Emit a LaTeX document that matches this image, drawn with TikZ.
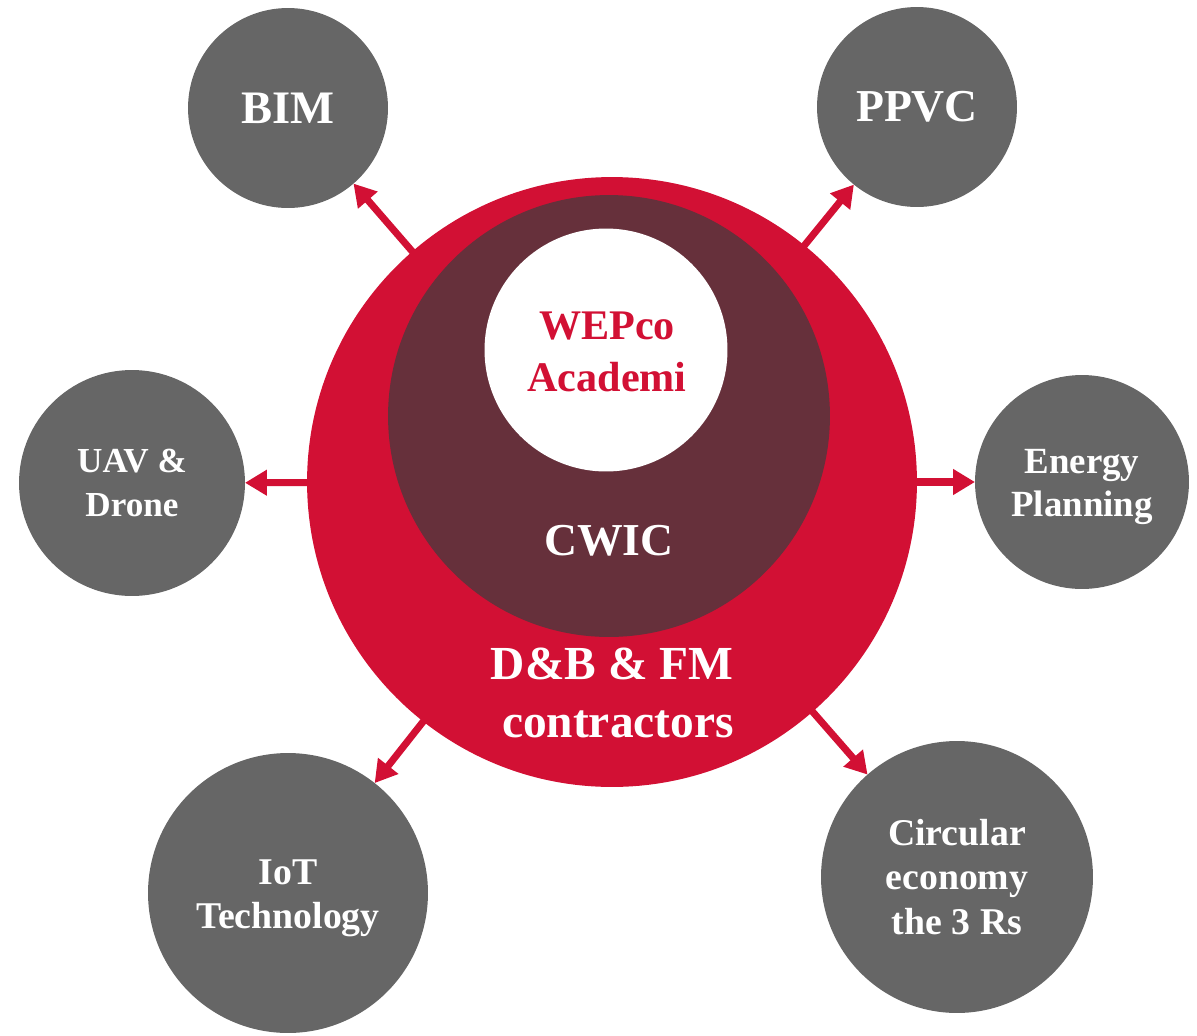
\documentclass[tikz,border=0pt]{standalone}
\usepackage{fontspec}
\setmainfont{Liberation Serif}
\usepackage{xcolor}
\usetikzlibrary{arrows.meta}
\definecolor{hubred}{HTML}{D21034}
\definecolor{hubmaroon}{HTML}{66303B}
\definecolor{satgrey}{HTML}{666666}
\tikzset{
    ring/.style={circle, inner sep=0pt, outer sep=0pt},
    sat/.style={circle, fill=satgrey, inner sep=0pt, outer sep=0pt, text=white, align=center, font=\bfseries},
    txt/.style={align=center, inner sep=0pt, font=\bfseries},
    arrow/.style={-{Triangle[length=12.5pt, width=14pt]}, line width=4pt, hubred, shorten <=-1pt}
}
\newcommand{\fsz}[2]{\fontsize{#1}{#2}\selectfont}

\begin{document}
\begin{tikzpicture}[x=0.02cm, y=-0.02cm]
        \useasboundingbox (0,0) rectangle (1197,1035);
        % hub
        \node[ring, fill=hubred, minimum size=12.2cm] (Hub) at (612,482) {};
        \node[ring, fill=hubmaroon, minimum size=8.84cm] (Cwic) at (609,416) {};
        \node[ring, fill=white, minimum size=4.86cm] (Academy) at (606,350) {};
        \node[txt, text=hubred, font=\bfseries\fsz{24}{29.5}] (AcademyTxt) at (607,352) {WEPco\\Academi};
        \node[txt, text=white, font=\bfseries\fsz{26}{26}] (CwicTxt) at (609,541) {CWIC};
        \node[txt, text=white, font=\bfseries\fsz{27}{32.5}, anchor=north] (HubTxt) at (612,648) {D\&B \& FM\\\hspace*{0.25em}contractors};
        
        % satellites
        \node[sat, minimum size=4cm, font=\bfseries\fsz{26.5}{27}] (Bim) at (288,108) {BIM};
        \node[sat, minimum size=4cm, font=\bfseries\fsz{26}{27}] (Ppvc) at (917,107) {PPVC};
        \node[sat, minimum size=4.52cm, font=\bfseries\fsz{20}{25.5}] (Uav) at (132,483) {UAV \&\\Drone};
        \node[sat, minimum size=4.28cm] (Energy) at (1082,482) {};
        \node[txt, text=white, font=\bfseries\fsz{21}{25}] (EnergyTxt) at ([yshift=-0.1cm]Energy.center) {Energy\\Planning};
        \node[sat, minimum size=5.6cm] (Iot) at (288,893) {};
        \node[txt, text=white, font=\bfseries\fsz{21.5}{25}] (IotTxt) at ([yshift=-0.1cm]Iot.center) {IoT\\Technology};
        \node[sat, minimum size=5.44cm, font=\bfseries\fsz{21.5}{25.5}] (Circular) at (957,877) {Circular\\economy\\the 3 Rs};
        
        \draw[arrow] (Hub) -- (Bim);
        \draw[arrow] (Hub) -- (Ppvc);
        \draw[arrow] (Hub) -- (Uav);
        \draw[arrow] (Hub) -- (Energy);
        \draw[arrow] (Hub) -- (Iot);
        \draw[arrow] (Hub) -- (Circular);
    \end{tikzpicture}
\end{document}
